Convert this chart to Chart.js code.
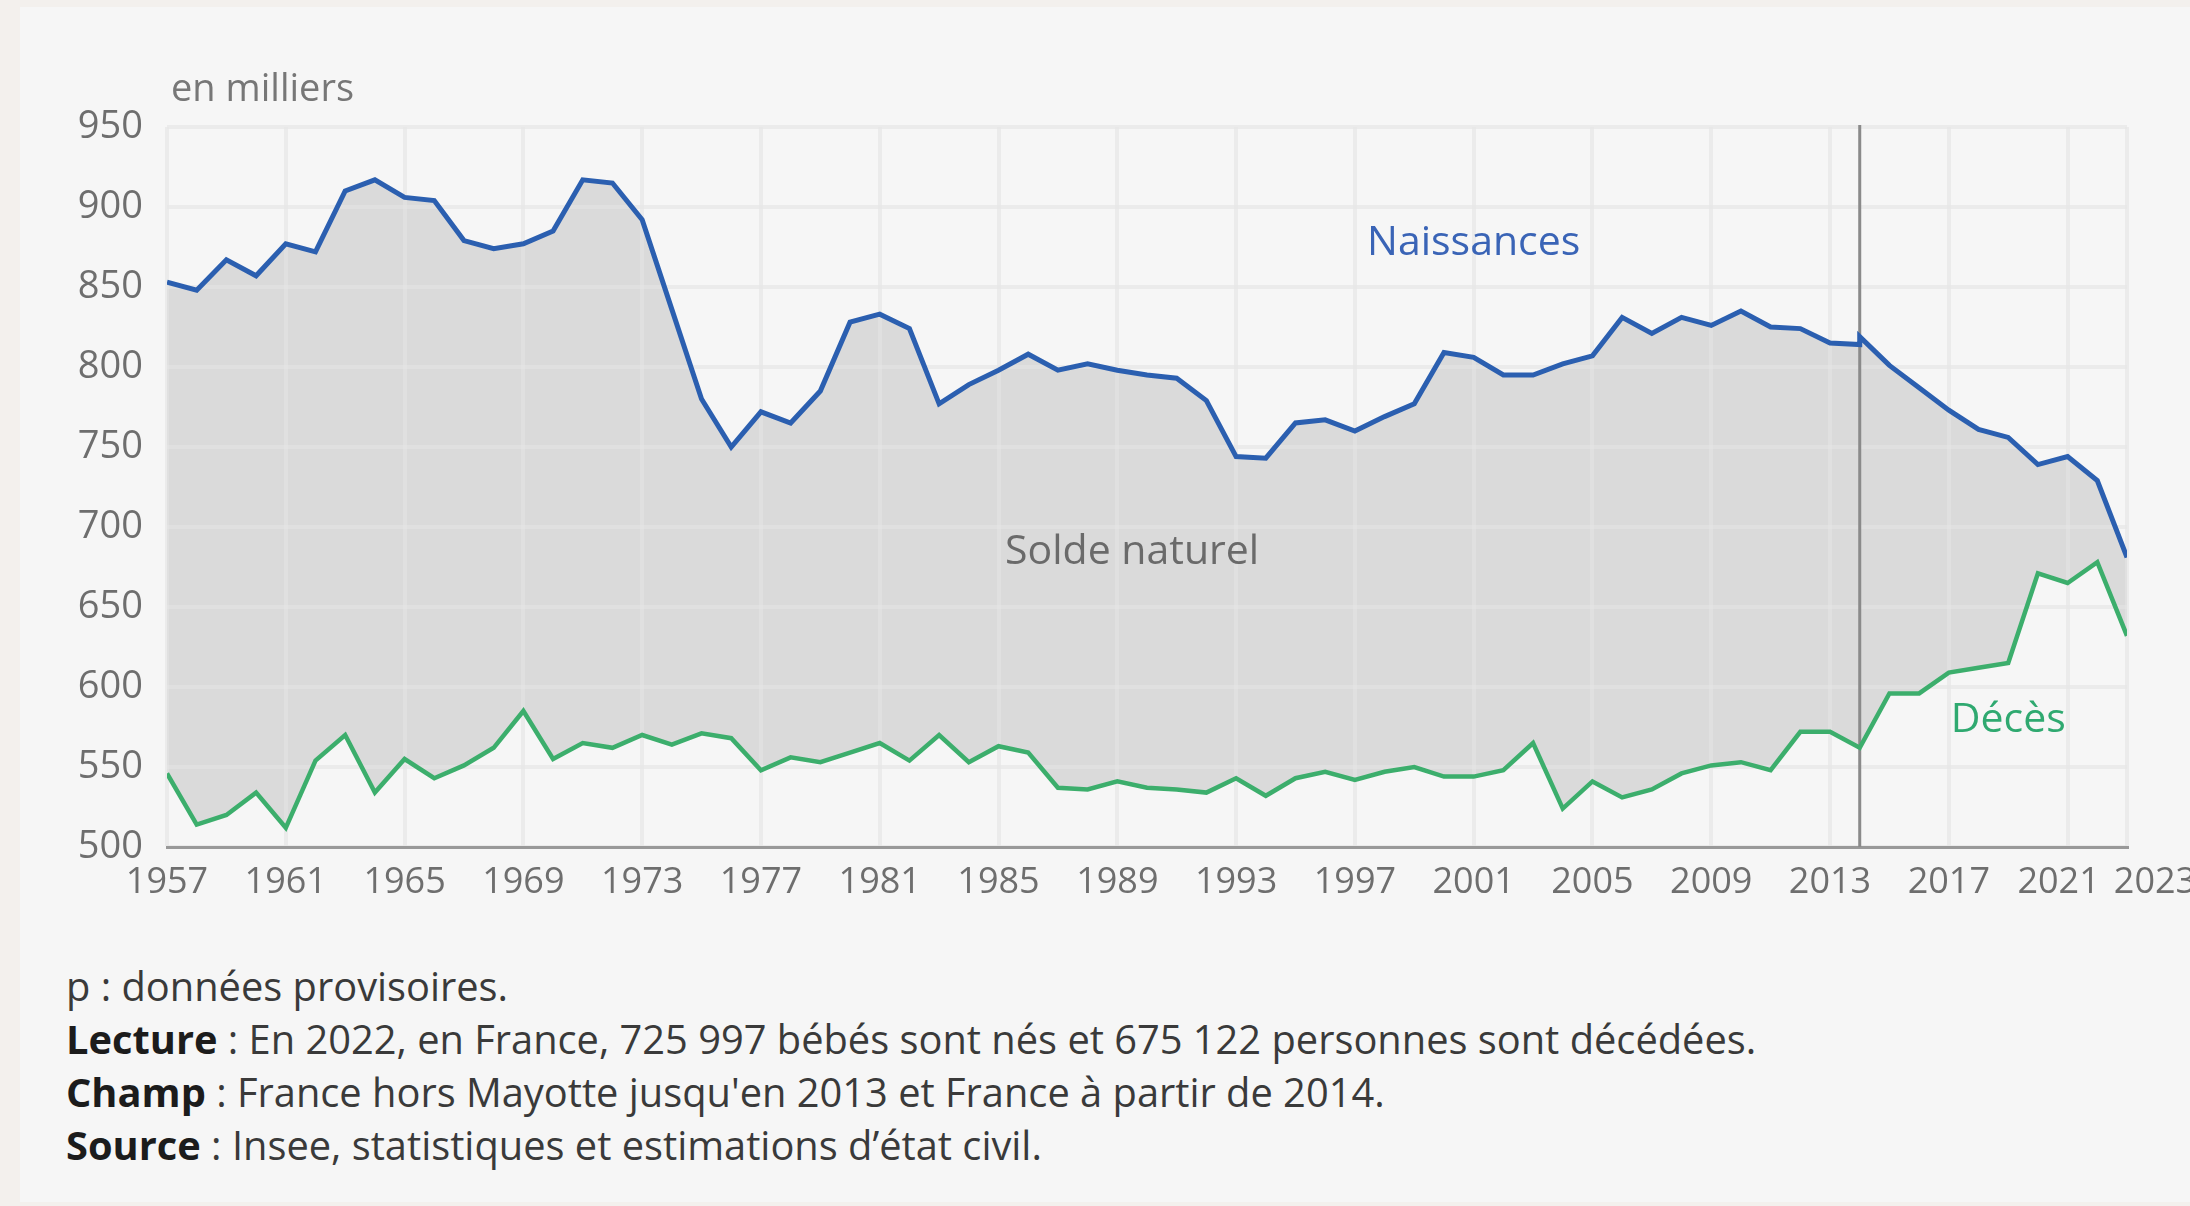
<!DOCTYPE html>
<html lang="fr">
<head>
<meta charset="utf-8">
<title>Naissances et décès en France</title>
<script src="https://cdn.jsdelivr.net/npm/chart.js@4.4.1/dist/chart.umd.min.js"></script>
<style>
    html, body { margin: 0; padding: 0; }
    body {
        width: 2190px; height: 1206px; overflow: hidden; position: relative;
        background: #f3f0ed; font-family: "Open Sans", sans-serif;
    }
    .panel { position: absolute; left: 20px; top: 7px; width: 2170px; height: 1195px; background: #f6f6f6; }
    .chart-box { position: absolute; left: 0; top: 0; width: 2260px; height: 907px; }
    .notes { position: absolute; left: 66px; top: 959px; font-size: 39.8px; line-height: 53px; color: #3a3a3a; }
    .notes b { color: #1c1c1c; }
</style>
</head>
<body>
<div class="panel"></div>
<div class="chart-box"><canvas id="birthsDeathsChart"></canvas></div>
<div class="notes">
    <div>p : données provisoires.</div>
    <div><b>Lecture</b> : En 2022, en France, 725 997 bébés sont nés et 675 122 personnes sont décédées.</div>
    <div><b>Champ</b> : France hors Mayotte jusqu'en 2013 et France à partir de 2014.</div>
    <div><b>Source</b> : Insee, statistiques et estimations d’état civil.</div>
</div>
<script>
// Years (2014 appears twice: France hors Mayotte, then France)
const years = [
    1957, 1958, 1959, 1960, 1961, 1962, 1963, 1964, 1965, 1966,
    1967, 1968, 1969, 1970, 1971, 1972, 1973, 1974, 1975, 1976,
    1977, 1978, 1979, 1980, 1981, 1982, 1983, 1984, 1985, 1986,
    1987, 1988, 1989, 1990, 1991, 1992, 1993, 1994, 1995, 1996,
    1997, 1998, 1999, 2000, 2001, 2002, 2003, 2004, 2005, 2006,
    2007, 2008, 2009, 2010, 2011, 2012, 2013, 2014, 2014, 2015,
    2016, 2017, 2018, 2019, 2020, 2021, 2022, 2023
];

// Naissances, en milliers
const births = [
    853, 848, 867, 857, 877, 872, 910, 917, 906, 904,
    879, 874, 877, 885, 917, 915, 892, 836, 780, 750,
    772, 765, 785, 828, 833, 824, 777, 789, 798, 808,
    798, 802, 798, 795, 793, 779, 744, 743, 765, 767,
    760, 769, 777, 809, 806, 795, 795, 802, 807, 831,
    821, 831, 826, 835, 825, 824, 815, 814, 819, 801,
    787, 773, 761, 756, 739, 744, 729, 681
];

// Décès, en milliers
const deaths = [
    546, 514, 520, 534, 512, 554, 570, 534, 555, 543,
    551, 562, 585, 555, 565, 562, 570, 564, 571, 568,
    548, 556, 553, 559, 565, 554, 570, 553, 563, 559,
    537, 536, 541, 537, 536, 534, 543, 532, 543, 547,
    542, 547, 550, 544, 544, 548, 565, 524, 541, 531,
    536, 546, 551, 553, 548, 572, 572, 562, 562, 596,
    596, 609, 612, 615, 671, 665, 678, 632
];

const tickYears = [1957, 1961, 1965, 1969, 1973, 1977, 1981, 1985, 1989, 1993, 1997, 2001, 2005, 2009, 2013, 2017, 2021, 2023];
const tickLabels = ['1957', '1961', '1965', '1969', '1973', '1977', '1981', '1985', '1989', '1993', '1997', '2001', '2005', '2009', '2013', '2017', '2021', '2023p'];
const breakYear = 2014;
const unitLabel = 'en milliers';

// Text labels placed in data units
const seriesLabels = [
    { text: 'Naissances', year: 2001.0, value: 877, color: '#3a64b6' },
    { text: 'Solde naturel', year: 1989.5, value: 684, color: '#6a6a6a' },
    { text: 'Décès', year: 2019.0, value: 579, color: '#2fa970' }
];

Chart.defaults.font.family = '"Open Sans", sans-serif';

function toPoints(values) {
    return values.map((v, i) => ({ x: years[i], y: v }));
}

// Break line at 2014 and the in-chart labels
const overlayPlugin = {
    id: 'overlay',
    beforeDatasetsDraw(chart) {
        const { ctx, chartArea, scales } = chart;
        const px = scales.x.getPixelForValue(breakYear);
        ctx.save();
        ctx.strokeStyle = '#8a8a8a';
        ctx.lineWidth = 3;
        ctx.beginPath();
        ctx.moveTo(px, chartArea.top - 2);
        ctx.lineTo(px, chartArea.bottom);
        ctx.stroke();
        ctx.restore();
    },
    afterDatasetsDraw(chart) {
        const { ctx, chartArea, scales } = chart;
        ctx.save();
        ctx.textAlign = 'center';
        ctx.textBaseline = 'middle';
        ctx.font = '500 41px "Open Sans"';
        seriesLabels.forEach(l => {
            ctx.fillStyle = l.color;
            ctx.fillText(l.text, scales.x.getPixelForValue(l.year), scales.y.getPixelForValue(l.value));
        });
        ctx.textAlign = 'left';
        ctx.textBaseline = 'alphabetic';
        ctx.font = '38px "Open Sans"';
        ctx.fillStyle = '#777777';
        ctx.fillText(unitLabel, chartArea.left + 4, chartArea.top - 26);
        ctx.restore();
    }
};

const gridColor = 'rgba(228, 228, 228, 0.6)';

new Chart(document.getElementById('birthsDeathsChart'), {
    type: 'line',
    data: {
        datasets: [
            {
                label: 'Naissances',
                data: toPoints(births),
                borderColor: '#2b5fb0',
                borderWidth: 5,
                pointRadius: 0,
                tension: 0,
                fill: 1,
                backgroundColor: '#dadada'
            },
            {
                label: 'Décès',
                data: toPoints(deaths),
                borderColor: '#3cae6c',
                borderWidth: 4.5,
                pointRadius: 0,
                tension: 0,
                fill: false
            }
        ]
    },
    options: {
        responsive: true,
        maintainAspectRatio: false,
        animation: false,
        layout: { padding: { top: 127, left: 20, right: 133, bottom: 0 } },
        plugins: {
            legend: { display: false },
            tooltip: { enabled: false },
            filler: { drawTime: 'beforeDraw' }
        },
        scales: {
            x: {
                type: 'linear',
                min: 1957,
                max: 2023,
                afterBuildTicks: axis => { axis.ticks = tickYears.map(v => ({ value: v })); },
                afterFit: axis => { axis.height = 60; axis.paddingLeft = 0; axis.paddingRight = 0; },
                grid: { color: gridColor, lineWidth: 4, drawTicks: false },
                border: { display: true, color: '#999999', width: 3 },
                ticks: {
                    autoSkip: false,
                    maxRotation: 0,
                    padding: 14,
                    color: '#6e6e6e',
                    font: { size: 36 },
                    // nudge the last two labels apart, as in the source
                    callback: value => {
                        const lbl = tickLabels[tickYears.indexOf(value)];
                        if (value === 2021) return lbl + '\u2002';
                        if (value === 2023) return '\u2003\u2003\u2009' + lbl;
                        return lbl;
                    }
                }
            },
            y: {
                min: 500,
                max: 950,
                afterFit: axis => { axis.width = 147; },
                grid: { color: gridColor, lineWidth: 4, drawTicks: false },
                border: { display: false },
                ticks: {
                    stepSize: 50,
                    padding: 24,
                    color: '#6e6e6e',
                    font: { size: 38 }
                }
            }
        }
    },
    plugins: [overlayPlugin]
});
</script>
</body>
</html>
